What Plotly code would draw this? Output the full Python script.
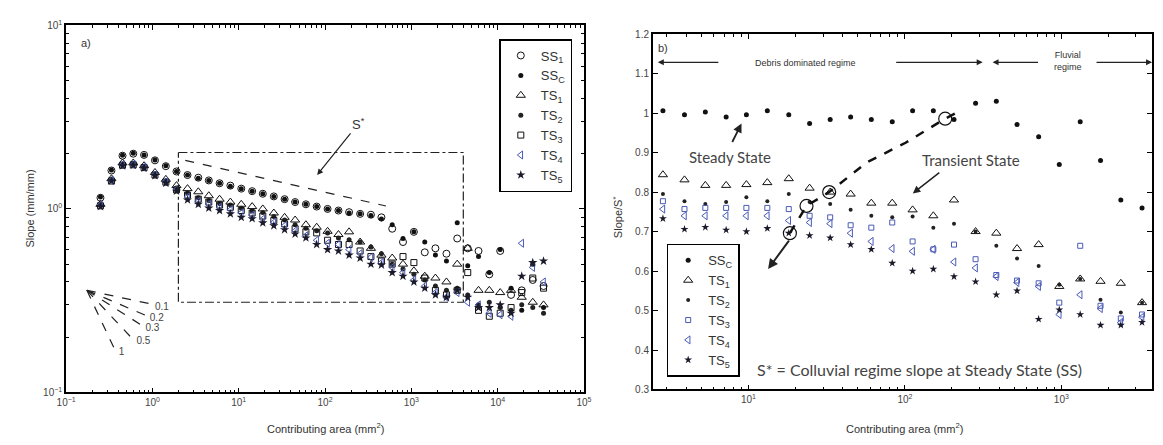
import numpy as np
import plotly.graph_objects as go

W, H = 1163, 445

# ---------------- Panel a data ----------------
area_a = [0.25, 0.335, 0.45, 0.6, 0.8, 1.07, 1.43, 1.9, 2.55, 3.4, 4.5, 6.0, 8.0, 10.7, 14.3, 19, 25.5, 34,
          45, 60, 80, 107, 143, 190, 255, 340, 450, 600, 800, 1070, 1430, 1900, 2550, 3400, 4500, 6000,
          8000, 10700, 14300, 19000, 25500, 34000]
ss1_a = [1.15, 1.62, 1.95, 2.0, 1.97, 1.84, 1.71, 1.60, 1.53, 1.48, 1.43, 1.38, 1.34, 1.29, 1.25, 1.21, 1.17, 1.13,
         1.09, 1.06, 1.03, 1.00, 0.98, 0.96, 0.94, 0.93, 0.90, 0.78, 0.66, 0.75, 0.58, 0.61, 0.57, 0.69,
         0.61, 0.59, 0.44, 0.59, 0.34, 0.36, 0.41, 0.38]
ssc_a = [1.16, 1.63, 1.96, 2.01, 1.97, 1.85, 1.72, 1.60, 1.53, 1.47, 1.43, 1.38, 1.33, 1.29, 1.25, 1.21, 1.17, 1.13,
         1.09, 1.06, 1.03, 1.00, 0.98, 0.95, 0.94, 0.92, 0.88, 0.82, 0.69, 0.75, 0.66, 0.56, 0.52, 0.84,
         0.49, 0.55, 0.45, 0.60, 0.37, 0.28, 0.50, 0.29]
ts1_a = [1.06, 1.46, 1.78, 1.78, 1.72, 1.58, 1.45, 1.34, 1.29, 1.24, 1.18, 1.13, 1.09, 1.06, 1.03, 1.00, 0.95, 0.90,
         0.87, 0.82, 0.795, 0.755, 0.725, 0.75, 0.66, 0.61, 0.56, 0.54, 0.50, 0.46, 0.43, 0.42, 0.40, 0.50,
         0.61, 0.36, 0.36, 0.35, 0.36, 0.33, 0.31, 0.30]
ts2_a = [1.05, 1.44, 1.75, 1.76, 1.70, 1.55, 1.42, 1.30, 1.22, 1.15, 1.11, 1.07, 1.05, 1.01, 0.975, 0.955, 0.91, 0.87,
         0.82, 0.785, 0.76, 0.74, 0.695, 0.68, 0.66, 0.62, 0.57, 0.50, 0.47, 0.44, 0.41, 0.38, 0.36, 0.37,
         0.34, 0.30, 0.31, 0.29, 0.28, 0.30, 0.29, 0.27]
ts3_a = [1.04, 1.42, 1.73, 1.74, 1.68, 1.53, 1.40, 1.27, 1.19, 1.13, 1.09, 1.05, 1.02, 0.98, 0.95, 0.915, 0.865, 0.83,
         0.78, 0.75, 0.74, 0.675, 0.64, 0.64, 0.59, 0.55, 0.52, 0.50, 0.55, 0.51, 0.42, 0.36, 0.34, 0.36,
         0.45, 0.28, 0.26, 0.27, 0.29, 0.35, 0.42, 0.37]
ts4_a = [1.05, 1.43, 1.74, 1.75, 1.69, 1.54, 1.41, 1.28, 1.16, 1.10, 1.06, 1.02, 0.99, 0.95, 0.925, 0.88, 0.845, 0.81,
         0.76, 0.715, 0.675, 0.65, 0.64, 0.60, 0.57, 0.545, 0.51, 0.48, 0.45, 0.41, 0.38, 0.35, 0.33, 0.35,
         0.31, 0.30, 0.27, 0.265, 0.26, 0.65, 0.48, 0.40]
ts5_a = [1.03, 1.42, 1.72, 1.73, 1.67, 1.52, 1.38, 1.25, 1.12, 1.06, 1.01, 0.98, 0.94, 0.90, 0.885, 0.84, 0.81, 0.77,
         0.73, 0.695, 0.64, 0.60, 0.59, 0.56, 0.54, 0.50, 0.495, 0.45, 0.43, 0.40, 0.37, 0.34, 0.33, 0.36,
         0.33, 0.29, 0.29, 0.30, 0.27, 0.43, 0.51, 0.52]

# reference S* line and dashed box (panel a)
sstar_x = [2.4, 508]
sstar_y = [1.84, 1.037]
box_x = [2, 4000, 4000, 2, 2]
box_y = [2.03, 2.03, 0.31, 0.31, 2.03]
# slope fan
fan_origin = (0.174, 0.36)
fan_slopes = [0.1, 0.2, 0.3, 0.5, 1]
fan_labels = ["0.1", "0.2", "0.3", "0.5", "1"]
fan_len = [0.74, 0.68, 0.63, 0.525, 0.32]

# ---------------- Panel b data ----------------
area_b = [2.84, 3.9, 5.3, 7.2, 9.7, 13.2, 18.1, 24.6, 33.3, 45, 61, 83, 112, 152, 206, 283, 384, 521, 716,
          970, 1320, 1780, 2400, 3280]
ssc_b = [1.006, 0.996, 1.003, 0.99, 0.996, 1.006, 0.996, 0.974, 0.984, 0.99, 0.984, 0.978, 1.006, 1.006,
         0.984, 1.025, 1.03, 0.971, 0.94, 0.87, 0.978, 0.88, 0.78, 0.76]
ts1_b = [0.844, 0.831, 0.817, 0.817, 0.819, 0.824, 0.834, 0.81, 0.80, 0.795, 0.772, 0.772, 0.755, 0.74,
         0.78, 0.70, 0.696, 0.657, 0.667, 0.561, 0.58, 0.574, 0.569, 0.52]
ts2_b = [0.795, 0.777, 0.77, 0.775, 0.787, 0.777, 0.795, 0.775, 0.77, 0.755, 0.74, 0.736, 0.738, 0.71,
         0.72, 0.70, 0.664, 0.632, 0.613, 0.565, 0.58, 0.527, 0.495, 0.52]
ts3_b = [0.777, 0.757, 0.76, 0.76, 0.76, 0.76, 0.757, 0.74, 0.736, 0.716, 0.71, 0.723, 0.675, 0.655,
         0.667, 0.63, 0.59, 0.576, 0.569, 0.52, 0.664, 0.512, 0.48, 0.49]
ts4_b = [0.757, 0.74, 0.74, 0.74, 0.74, 0.74, 0.728, 0.723, 0.72, 0.696, 0.675, 0.657, 0.65, 0.655,
         0.623, 0.608, 0.586, 0.571, 0.561, 0.49, 0.54, 0.505, 0.47, 0.483]
ts5_b = [0.733, 0.706, 0.711, 0.704, 0.70, 0.708, 0.696, 0.69, 0.684, 0.667, 0.655, 0.62, 0.60, 0.605,
         0.586, 0.573, 0.54, 0.55, 0.478, 0.502, 0.49, 0.463, 0.463, 0.47]
# transition path and highlighted points
path_x = [18.4, 23.5, 32.8, 57, 101, 181, 232]
path_y = [0.696, 0.765, 0.80, 0.875, 0.925, 0.986, 1.008]
hl_x = [18.4, 23.5, 32.8, 181]
hl_y = [0.696, 0.765, 0.80, 0.986]

BLACK = "#111111"
BLUE = "#4a5ab8"
FONT = "Liberation Sans, Arial, sans-serif"
HUM = "Lato, Open Sans, sans-serif"

fig = go.Figure()

series_a = [
    ("SS<sub>1</sub>", ss1_a, dict(symbol="circle-open", size=7, color=BLACK, line=dict(width=1, color=BLACK))),
    ("SS<sub>C</sub>", ssc_a, dict(symbol="circle", size=5, color=BLACK)),
    ("TS<sub>1</sub>", ts1_a, dict(symbol="triangle-up-open", size=8, color=BLACK, line=dict(width=1, color=BLACK))),
    ("TS<sub>2</sub>", ts2_a, dict(symbol="circle", size=5, color="#222")),
    ("TS<sub>3</sub>", ts3_a, dict(symbol="square-open", size=6, color=BLACK, line=dict(width=1, color=BLACK))),
    ("TS<sub>4</sub>", ts4_a, dict(symbol="triangle-left-open", size=7, color=BLUE, line=dict(width=1, color=BLUE))),
    ("TS<sub>5</sub>", ts5_a, dict(symbol="star", size=7, color="#1a1a2a")),
]
for name, ys, mk in series_a:
    fig.add_trace(go.Scatter(x=area_a, y=ys, mode="markers", name=name, marker=mk,
                             xaxis="x", yaxis="y", legend="legend"))

fig.add_trace(go.Scatter(x=sstar_x, y=sstar_y, mode="lines", line=dict(color="#222", width=1.2, dash="dash"),
                         showlegend=False, xaxis="x", yaxis="y"))
fig.add_trace(go.Scatter(x=box_x, y=box_y, mode="lines", line=dict(color="#222", width=1.2, dash="dashdot"),
                         showlegend=False, xaxis="x", yaxis="y"))
ox, oy = fan_origin
for s, L, lab in zip(fan_slopes, fan_len, fan_labels):
    ex = ox * 10 ** L
    ey = oy * 10 ** (-s * L)
    fig.add_trace(go.Scatter(x=[ox, ex], y=[oy, ey], mode="lines",
                             line=dict(color="#222", width=1.2, dash="dash"),
                             showlegend=False, xaxis="x", yaxis="y"))
    fig.add_trace(go.Scatter(x=[ex * 1.12], y=[ey * 0.96], mode="text", text=[lab],
                             textposition="middle right", textfont=dict(size=10, color="#444", family=FONT),
                             showlegend=False, xaxis="x", yaxis="y"))

series_b = [
    ("SS<sub>C</sub>", ssc_b, dict(symbol="circle", size=5, color=BLACK)),
    ("TS<sub>1</sub>", ts1_b, dict(symbol="triangle-up-open", size=8, color=BLACK, line=dict(width=1, color=BLACK))),
    ("TS<sub>2</sub>", ts2_b, dict(symbol="circle", size=4, color="#222")),
    ("TS<sub>3</sub>", ts3_b, dict(symbol="square-open", size=5, color=BLUE, line=dict(width=1, color=BLUE))),
    ("TS<sub>4</sub>", ts4_b, dict(symbol="triangle-left-open", size=7, color=BLUE, line=dict(width=1, color=BLUE))),
    ("TS<sub>5</sub>", ts5_b, dict(symbol="star", size=6, color="#1a1a2a")),
]
for name, ys, mk in series_b:
    fig.add_trace(go.Scatter(x=area_b, y=ys, mode="markers", name=name, marker=mk,
                             xaxis="x2", yaxis="y2", legend="legend2"))

fig.add_trace(go.Scatter(x=path_x, y=path_y, mode="lines", line=dict(color=BLACK, width=2.5, dash="dash"),
                         showlegend=False, xaxis="x2", yaxis="y2"))
fig.add_trace(go.Scatter(x=hl_x, y=hl_y, mode="markers",
                         marker=dict(symbol="circle-open", size=13, color=BLACK, line=dict(width=1.2, color=BLACK)),
                         showlegend=False, xaxis="x2", yaxis="y2"))


def sup(p):
    return "10<sup>%s</sup>" % (("−%d" % -p) if p < 0 else str(p))


minor_a = [m * 10 ** k for k in range(-1, 5) for m in range(2, 10)]
minor_ay = [m * 10 ** k for k in range(-1, 1) for m in range(2, 10)]
minor_b = [m * 10 ** k for k in range(0, 4) for m in range(2, 10)]

axis_common = dict(showline=True, linecolor="black", mirror="allticks", ticks="inside", ticklen=5,
                   tickcolor="black", showgrid=False, zeroline=False,
                   tickfont=dict(size=10, color="#444", family=FONT))

xa = [-1, 0, 1, 2, 3, 4, 5]
ya = [-1, 0, 1]
xb = [1, 2, 3]

fig.update_layout(
    width=W, height=H, margin=dict(l=0, r=0, t=0, b=0),
    paper_bgcolor="white", plot_bgcolor="white",
    font=dict(family=FONT, color="#333"),
    xaxis=dict(type="log", range=[-1, 5], domain=[57 / W, 583 / W], anchor="y",
               tickmode="array", tickvals=[10 ** p for p in xa], ticktext=[sup(p) for p in xa],
               linewidth=1.8,
               minor=dict(ticks="inside", ticklen=3, tickcolor="black", tickmode="array", tickvals=minor_a),
               **axis_common),
    yaxis=dict(type="log", range=[-1, 1], domain=[1 - 397 / H, 1 - 19 / H], anchor="x",
               tickmode="array", tickvals=[10 ** p for p in ya], ticktext=[sup(p) for p in ya],
               linewidth=1.8,
               minor=dict(ticks="inside", ticklen=3, tickcolor="black", tickmode="array", tickvals=minor_ay),
               **axis_common),
    xaxis2=dict(type="log", range=[np.log10(2.45), np.log10(3800)], domain=[653 / W, 1160 / W], anchor="y2",
                tickmode="array", tickvals=[10 ** p for p in xb], ticktext=[sup(p) for p in xb],
                linewidth=1.8,
                minor=dict(ticks="inside", ticklen=3, tickcolor="black", tickmode="array", tickvals=minor_b),
                **axis_common),
    yaxis2=dict(range=[0.3, 1.2], domain=[1 - 394 / H, 1 - 28 / H], anchor="x2",
                tickmode="array", tickvals=[0.3, 0.4, 0.5, 0.6, 0.7, 0.8, 0.9, 1.0, 1.1, 1.2],
                ticktext=["0.3", "0.4", "0.5", "0.6", "0.7", "0.8", "0.9", "1", "1.1", "1.2"],
                linewidth=1.8, **axis_common),
    legend=dict(x=497 / W, y=1 - 33 / H, xanchor="left", yanchor="top", bordercolor="black", borderwidth=1.5,
                bgcolor="white", font=dict(size=13, color="#333", family=FONT), tracegroupgap=0),
    legend2=dict(x=667 / W, y=1 - 244 / H, xanchor="left", yanchor="top", bordercolor="black", borderwidth=1.5,
                 bgcolor="white", font=dict(size=13, color="#333", family=FONT), tracegroupgap=0),
)


def P(px, py):
    return px / W, 1 - py / H


anns = []


def text(px, py, t, size=11, family=FONT, color="#333", angle=0, xanchor="center"):
    x, y = P(px, py)
    anns.append(dict(x=x, y=y, xref="paper", yref="paper", text=t, showarrow=False, textangle=angle,
                     xanchor=xanchor, yanchor="middle", font=dict(size=size, family=family, color=color)))


def arrow(hx, hy, tx, ty, t="", width=1.2, head=2, size=11, family=FONT, color="#333"):
    x, y = P(hx, hy)
    anns.append(dict(x=x, y=y, xref="paper", yref="paper", text=t, showarrow=True, arrowhead=head,
                     arrowwidth=width, arrowcolor="#222", arrowsize=1, ax=tx - hx, ay=ty - hy,
                     font=dict(size=size, family=family, color=color)))


# axis titles
text(20, 208, "Slope (mm/mm)", size=11, angle=-90)
text(320, 434, "Contributing area (mm<sup>2</sup>)", size=11)
text(617, 216, "Slope/S<sup>*</sup>", size=11, angle=-90)
text(909, 434, "Contributing area (mm<sup>2</sup>)", size=11)

# panel a
text(77, 37, "a)", size=11)
arrow(312, 173, 353, 122, t="S<sup>*</sup>", size=13)

# panel b
text(663, 42, "b)", size=11)
text(808, 58, "Debris dominated regime", size=9)
text(1075, 56, "Fluvial<br>regime", size=9)
arrow(658, 57, 720, 57)
arrow(988, 57, 900, 57)
arrow(998, 57, 1045, 57)
arrow(1160, 57, 1103, 57)
text(731, 154, "Steady State", size=15, family=HUM, color="#444")
arrow(743, 120, 733, 140, width=1.8)
text(976, 158, "Transient State", size=15, family=HUM, color="#444")
arrow(917, 192, 945, 170, width=1.5)
arrow(770, 270, 792, 240, width=2)
text(757, 373, "S* = Colluvial regime slope at Steady State (SS)", size=16, family=HUM, color="#444",
     xanchor="left")

fig.update_layout(annotations=anns)

fig.write_html("out.html", config={"displayModeBar": False},
               post_script="document.body.style.margin='0';")
